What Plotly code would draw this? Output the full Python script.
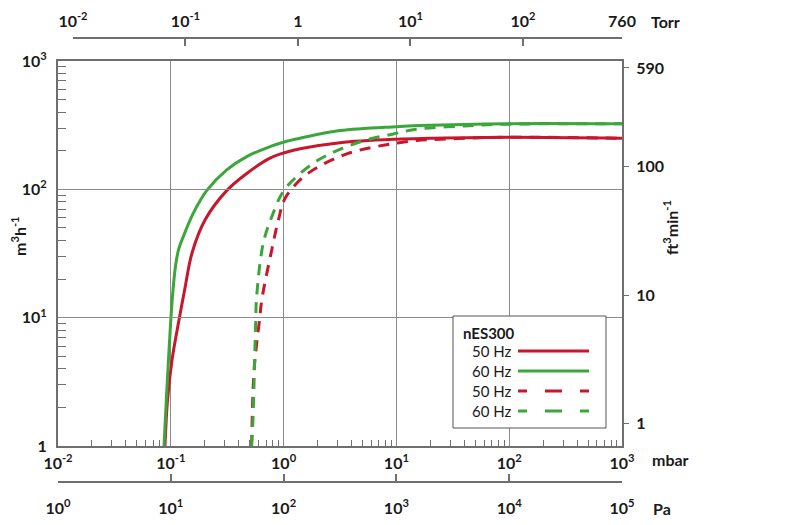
import plotly.graph_objects as go

# pumping speed curves (p in mbar, S in m3/h)
p_50hz = [0.0888, 0.0935, 0.1025, 0.1182, 0.1336, 0.1542, 0.201, 0.313, 0.471, 0.757, 1.0, 1.4, 3.16, 10, 20, 100, 1000]
s_50hz = [1, 2.28, 4.68, 9.6, 17, 31.9, 57.7, 97.7, 133, 175, 192, 207, 231, 246, 250, 255, 250]

p_60hz = [0.0871, 0.0912, 0.0954, 0.1, 0.1046, 0.1101, 0.117, 0.129, 0.158, 0.208, 0.313, 0.471, 0.757, 1.03, 1.4, 3.16, 10, 16, 100, 1000]
s_60hz = [1, 2.28, 4.68, 9.6, 16.4, 25.3, 33.7, 42.8, 65, 97.7, 142, 180, 215, 235, 250, 287, 308, 314, 325, 324]

p_50hz_dash = [0.52, 0.545, 0.575, 0.615, 0.64, 0.785, 0.9, 1.03, 1.45, 2.18, 3.63, 6.2, 10, 15.1, 40, 100, 1000]
s_50hz_dash = [1, 3.7, 6.1, 10, 13.7, 33.7, 57.8, 85, 122, 155, 189, 213, 229, 240, 250, 255, 250]

p_60hz_dash = [0.52, 0.535, 0.55, 0.565, 0.577, 0.66, 0.785, 0.99, 1.35, 2.03, 3.16, 5.46, 9.4, 15.1, 40, 100, 1000]
s_60hz_dash = [1, 1.6, 3.7, 9, 14.6, 38, 61, 96, 129, 169, 205, 243, 270, 294, 312, 322, 324]

mbar_ticks = [0.01, 0.1, 1, 10, 100, 1000]
mbar_text = ["10<sup>-2</sup>", "10<sup>-1</sup>", "10<sup>0</sup>", "10<sup>1</sup>", "10<sup>2</sup>", "10<sup>3</sup>"]
torr_ticks = [0.01, 0.1, 1, 10, 100, 760]
torr_text = ["10<sup>-2</sup>", "10<sup>-1</sup>", "1", "10<sup>1</sup>", "10<sup>2</sup>", "760"]
pa_ticks = [1, 10, 100, 1000, 10000, 100000]
pa_text = ["10<sup>0</sup>", "10<sup>1</sup>", "10<sup>2</sup>", "10<sup>3</sup>", "10<sup>4</sup>", "10<sup>5</sup>"]
m3h_ticks = [1, 10, 100, 1000]
m3h_text = ["1", "10<sup>1</sup>", "10<sup>2</sup>", "10<sup>3</sup>"]
cfm_ticks = [1, 10, 100, 590]
cfm_text = ["1", "10", "100", "590"]

legend_title = "nES300"
legend_names = ["50 Hz", "60 Hz", "50 Hz", "60 Hz"]

RED = "#c8172c"
GREEN = "#3ba73b"
GRID = "#8c8c8c"
LINE = "#6f6f6f"
DASH = "11px,8px"
LEGEND_DASH = "9px,18px,17px,18px,9px"
FONT = "Lato"
TICK_FONT = dict(family=FONT, size=16, color="#1a1a1a", weight="bold")

# the page puts the figure 8px in from the top-left corner
PAGE = 8
W, H = 800, 525
L, R, T, B = 50, 186, 2, 18
PLOT_TOP, PLOT_BOTTOM = 61, 446  # in screen pixels


def px(x):
    return (x - PAGE - L) / (W - L - R)


def py(y):
    return (H - B - (y - PAGE)) / (H - T - B)


def minor_log(decades):
    return [m * 10 ** d for d in decades for m in range(2, 10)]


fig = go.Figure()
series = [
    (p_50hz, s_50hz, RED, "solid"),
    (p_60hz, s_60hz, GREEN, "solid"),
    (p_50hz_dash, s_50hz_dash, RED, DASH),
    (p_60hz_dash, s_60hz_dash, GREEN, DASH),
]
for (x, y, color, dash), name in zip(series, legend_names):
    fig.add_trace(go.Scatter(
        x=x, y=y, name=name, mode="lines",
        line=dict(color=color, width=3, dash=dash, shape="spline", smoothing=1.0),
        showlegend=False,
    ))

# invisible carriers so plotly draws the extra Torr / Pa / ft3 scales
hidden = dict(mode="markers", marker=dict(opacity=0), hoverinfo="skip", showlegend=False)
fig.add_trace(go.Scatter(x=torr_ticks, y=[1] * len(torr_ticks), xaxis="x2", yaxis="y", **hidden))
fig.add_trace(go.Scatter(x=pa_ticks, y=[1] * len(pa_ticks), xaxis="x3", yaxis="y", **hidden))
fig.add_trace(go.Scatter(x=[1] * len(cfm_ticks), y=cfm_ticks, xaxis="x", yaxis="y2", **hidden))

fig.update_layout(
    width=W, height=H,
    margin=dict(l=L, r=R, t=T, b=B, autoexpand=False),
    paper_bgcolor="white", plot_bgcolor="rgba(0,0,0,0)",
    font=dict(family=FONT),
    xaxis=dict(
        type="log", range=[-2, 3], domain=[0, 1], automargin=False,
        tickvals=mbar_ticks, ticktext=mbar_text, tickfont=TICK_FONT,
        ticks="", ticklabelstandoff=2,
        showgrid=True, gridcolor=GRID, gridwidth=1,
        showline=True, linecolor=LINE, linewidth=2, mirror=True,
        minor=dict(tickvals=minor_log(range(-2, 3)), ticks="inside", ticklen=6,
                   tickcolor=LINE, showgrid=False),
        zeroline=False,
    ),
    xaxis2=dict(
        type="log", range=[-2, 2.8808], domain=[px(73), 1], automargin=False,
        anchor="free", position=py(38), side="top",
        tickvals=torr_ticks, ticktext=torr_text, tickfont=TICK_FONT,
        ticks="inside", ticklen=7, tickcolor=LINE, tickwidth=2, ticklabelstandoff=4,
        showline=True, linecolor=LINE, linewidth=2, showgrid=False, zeroline=False,
    ),
    xaxis3=dict(
        type="log", range=[0, 5], domain=[0, 1], automargin=False,
        anchor="free", position=py(482), side="bottom",
        tickvals=pa_ticks, ticktext=pa_text, tickfont=TICK_FONT,
        ticks="inside", ticklen=7, tickcolor=LINE, tickwidth=2, ticklabelstandoff=12,
        showline=True, linecolor=LINE, linewidth=2, showgrid=False, zeroline=False,
    ),
    yaxis=dict(
        type="log", range=[0, 3], domain=[py(PLOT_BOTTOM), py(PLOT_TOP)], automargin=False,
        tickvals=m3h_ticks, ticktext=m3h_text, tickfont=TICK_FONT,
        ticks="", ticklabelstandoff=6,
        showgrid=True, gridcolor=GRID, gridwidth=1,
        showline=True, linecolor=LINE, linewidth=2, mirror=True,
        minor=dict(tickvals=minor_log(range(0, 3)), ticks="inside", ticklen=8,
                   tickcolor=LINE, showgrid=False),
        zeroline=False,
    ),
    yaxis2=dict(
        type="log", range=[-0.175, 2.825], overlaying="y", side="right", automargin=False,
        tickvals=cfm_ticks, ticktext=cfm_text, tickfont=TICK_FONT,
        ticks="outside", ticklen=6, tickcolor=LINE, ticklabelstandoff=4,
        showline=False, showgrid=False, zeroline=False,
    ),
)

# unit labels
unit_font = dict(family=FONT, size=16, color="#1a1a1a", weight="bold")
for text, x, y in [("Torr", 649, 21), ("mbar", 650, 459), ("Pa", 651, 508)]:
    fig.add_annotation(text=text, x=px(x), y=py(y), xref="paper", yref="paper",
                       xanchor="left", yanchor="middle", showarrow=False, font=unit_font)
fig.add_annotation(text="m<sup>3</sup>h<sup>-1</sup>", x=px(19), y=py(236), xref="paper", yref="paper",
                   xanchor="center", yanchor="middle", textangle=-90, showarrow=False, font=unit_font)
fig.add_annotation(text="ft<sup>3</sup>min<sup>-1</sup>", x=px(670), y=py(228), xref="paper", yref="paper",
                   xanchor="center", yanchor="middle", textangle=-90, showarrow=False, font=unit_font)

# legend box, labels on the left, line samples on the right
fig.add_shape(type="rect", xref="paper", yref="paper",
              x0=px(453), x1=px(606), y0=py(428), y1=py(316),
              line=dict(color="#555555", width=1), fillcolor="white", layer="above")
fig.add_annotation(text="<b>" + legend_title + "</b>", x=px(461), y=py(333), xref="paper", yref="paper",
                   xanchor="left", yanchor="middle", showarrow=False,
                   font=dict(family=FONT, size=15, color="#1a1a1a"))
for i, ((_, _, color, dash), name) in enumerate(zip(series, legend_names)):
    row_y = 351 + 20 * i
    fig.add_annotation(text=name, x=px(514), y=py(row_y), xref="paper", yref="paper",
                       xanchor="right", yanchor="middle", showarrow=False,
                       font=dict(family=FONT, size=15, color="#1a1a1a"))
    fig.add_shape(type="line", xref="paper", yref="paper",
                  x0=px(518), x1=px(589), y0=py(row_y), y1=py(row_y),
                  line=dict(color=color, width=3, dash="solid" if dash == "solid" else LEGEND_DASH),
                  layer="above")

fig.write_html("out.html")
